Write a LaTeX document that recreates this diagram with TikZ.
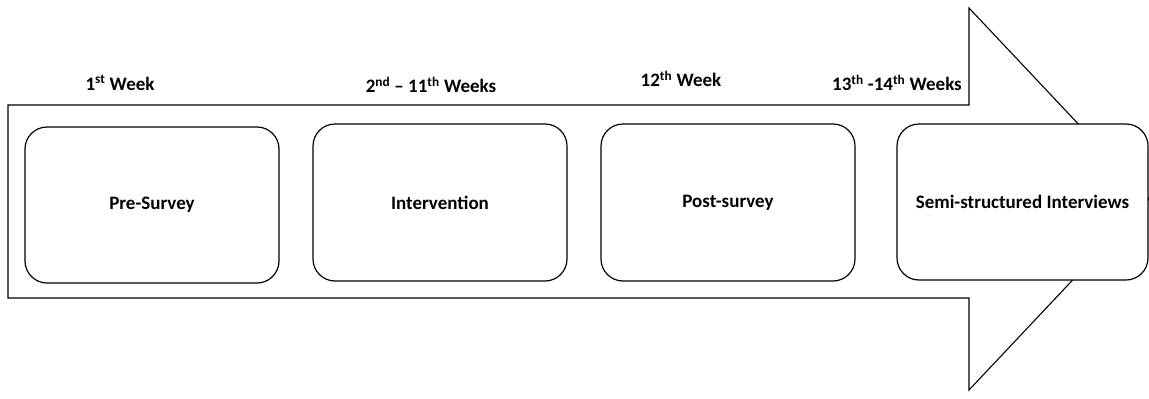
\documentclass[tikz,border=0pt]{standalone}
\usepackage{fontspec}
\setmainfont{Carlito}
\begin{document}
\begin{tikzpicture}[x=1pt,y=-1pt,
  stagebox/.style={draw=black,line width=1.2pt,rounded corners=22pt,fill=white,
    minimum width=#1,inner sep=0pt,font=\bfseries\fontsize{19}{21}\selectfont},
  weeklabel/.style={inner sep=0pt,font=\bfseries\fontsize{19}{21}\selectfont}]
\useasboundingbox (0,0) rectangle (1149,399);
% big arrow
\draw[line width=1.1pt,fill=white] (8,105) -- (969,105) -- (969,8) -- (1149,199)
  -- (969,390) -- (969,298) -- (8,298) -- cycle;
% boxes
\node[stagebox=254pt,minimum height=156pt] (pre) at (152,205) {Pre-Survey};
\node[stagebox=254pt,minimum height=157pt] (int) at (440,202.5) {Intervention};
\node[stagebox=254pt,minimum height=157pt] (post) at (728,202.5) {Post-survey};
\node[stagebox=251pt,minimum height=156pt] (semi) at (1022.5,202) {Semi-structured Interviews};
% week labels
\node[weeklabel] (w1) at (120,83) {1\textsuperscript{st} Week};
\node[weeklabel] (w2) at (431,85) {2\textsuperscript{nd} – 11\textsuperscript{th} Weeks};
\node[weeklabel] (w3) at (681,79) {12\textsuperscript{th} Week};
\node[weeklabel] (w4) at (897,83) {13\textsuperscript{th} -14\textsuperscript{th} Weeks};
\end{tikzpicture}
\end{document}
